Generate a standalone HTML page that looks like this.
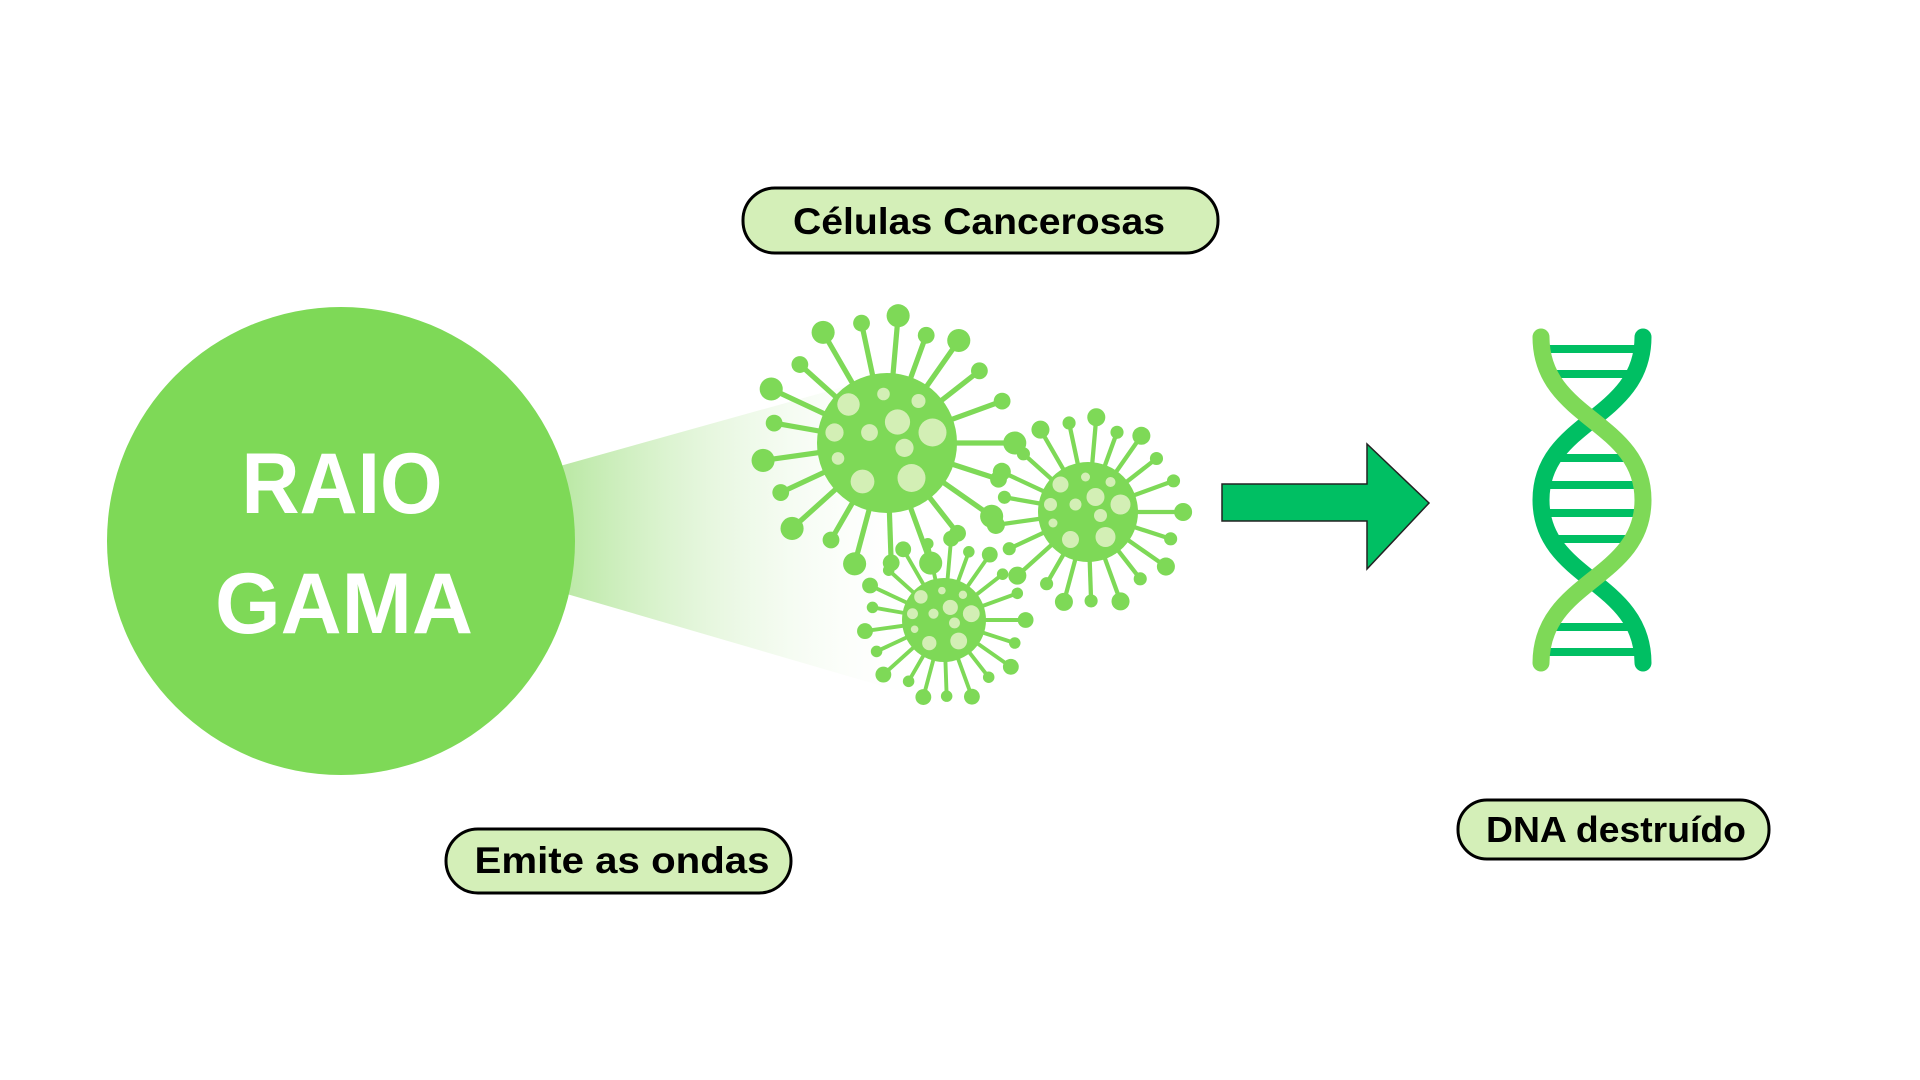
<!DOCTYPE html>
<html><head><meta charset="utf-8"><style>
html,body{margin:0;padding:0;background:#fff;}
svg{display:block;}
text{font-family:"Liberation Sans",sans-serif;font-weight:bold;}
</style></head>
<body>
<svg id="s" width="1920" height="1080" viewBox="0 0 1920 1080">
<defs>
<linearGradient id="beam" x1="570" y1="0" x2="930" y2="0" gradientUnits="userSpaceOnUse">
<stop offset="0" stop-color="#bde9a8"/>
<stop offset="1" stop-color="#ffffff" stop-opacity="0"/>
</linearGradient>
</defs>
<polygon points="560,466 850,385 930,700 560,592" fill="url(#beam)"/>
<circle cx="341" cy="541" r="234" fill="#7ED957"/>
<text x="342" y="513" font-size="86" fill="#fff" text-anchor="middle" textLength="201" lengthAdjust="spacingAndGlyphs">RAIO</text>
<text x="344" y="633" font-size="86" fill="#fff" text-anchor="middle" textLength="258" lengthAdjust="spacingAndGlyphs">GAMA</text>
<g id="viruses"></g>
<polygon points="1222,484 1367,484 1367,444 1429,503 1367,569 1367,521 1222,521" fill="#00BF63" stroke="#222" stroke-width="1.5"/>
<g>
<g fill="#00BF63">
<rect x="1548" y="345" width="90" height="8"/><rect x="1550" y="370" width="85" height="8"/>
<rect x="1560" y="454" width="70" height="8"/><rect x="1550" y="481" width="90" height="8"/>
<rect x="1548" y="509" width="92" height="8"/><rect x="1552" y="535" width="85" height="8"/>
<rect x="1550" y="623" width="85" height="8"/><rect x="1548" y="648" width="90" height="8"/>
</g>
<path d="M1643,337 C1643,420 1541,420 1541,500 C1541,580 1643,580 1643,663" fill="none" stroke="#00BF63" stroke-width="17" stroke-linecap="round"/>
<path d="M1541,337 C1541,420 1643,420 1643,500 C1643,580 1541,580 1541,663" fill="none" stroke="#7ED957" stroke-width="17" stroke-linecap="round"/>
</g>
<g>
<rect x="743" y="188" width="475" height="65" rx="32" fill="#D4EFB8" stroke="#000" stroke-width="3"/>
<text x="979" y="234" font-size="37" text-anchor="middle" textLength="372" lengthAdjust="spacingAndGlyphs">Células Cancerosas</text>
</g>
<g>
<rect x="446" y="829" width="345" height="64" rx="32" fill="#D4EFB8" stroke="#000" stroke-width="3"/>
<text x="622" y="873" font-size="37" text-anchor="middle" textLength="295" lengthAdjust="spacingAndGlyphs">Emite as ondas</text>
</g>
<g>
<rect x="1458" y="800" width="311" height="59" rx="29" fill="#D4EFB8" stroke="#000" stroke-width="3"/>
<text x="1616" y="842" font-size="36" text-anchor="middle" textLength="260" lengthAdjust="spacingAndGlyphs">DNA destruído</text>
</g>
</svg>
<script>
const NS="http://www.w3.org/2000/svg";
const g=document.getElementById('viruses');
const cells=[[887,443,70,1.05],[1088,512,50,0.82],[944,620,42,0.72]];
const angles=[0,18,35,52,70,88,105,120,138,155,172,190,205,222,240,258,275,290,305,322,340];
const lens=[1.0,0.8,1.0,0.75,1.0,0.85,0.95,0.7,1.0,0.8,0.95,0.75,1.0,0.8,1.0,0.9,1.0,0.75,0.95,0.8,0.9];
const spots=[[-0.55,-0.55,0.16],[-0.05,-0.7,0.09],[0.45,-0.6,0.1],[0.15,-0.3,0.18],[0.65,-0.15,0.2],[-0.75,-0.15,0.13],[-0.25,-0.15,0.12],[0.25,0.07,0.13],[-0.7,0.22,0.09],[-0.35,0.55,0.17],[0.35,0.5,0.2]];
cells.forEach(function(c){
  const grp=document.createElementNS(NS,'g');
  
  
  angles.forEach(function(a,i){
    const r=a*Math.PI/180, L=c[2]+ (50*lens[i]+5)*c[3];
    const x2=c[0]+L*Math.cos(r), y2=c[1]+L*Math.sin(r);
    const ln=document.createElementNS(NS,'line');
    ln.setAttribute('x1',c[0]);ln.setAttribute('y1',c[1]);ln.setAttribute('x2',x2);ln.setAttribute('y2',y2);
    ln.setAttribute('stroke','#7ED957');ln.setAttribute('stroke-width',4*c[3]+1);
    
    
    grp.appendChild(ln);
    const b=document.createElementNS(NS,'circle');
    b.setAttribute('cx',x2);b.setAttribute('cy',y2);b.setAttribute('r',(lens[i]>0.9?11:8)*c[3]);b.setAttribute('fill','#7ED957');
    
    
    grp.appendChild(b);
  });
  const body=document.createElementNS(NS,'circle');
  body.setAttribute('cx',c[0]);body.setAttribute('cy',c[1]);body.setAttribute('r',c[2]);body.setAttribute('fill','#7ED957');
  
  
  grp.appendChild(body);
  spots.forEach(function(s){
    const sp=document.createElementNS(NS,'circle');
    sp.setAttribute('cx',c[0]+s[0]*c[2]);sp.setAttribute('cy',c[1]+s[1]*c[2]);sp.setAttribute('r',s[2]*c[2]);sp.setAttribute('fill','#D3EFB5');
    
    
    grp.appendChild(sp);
  });
  g.appendChild(grp);
});
</script>
</body></html>
